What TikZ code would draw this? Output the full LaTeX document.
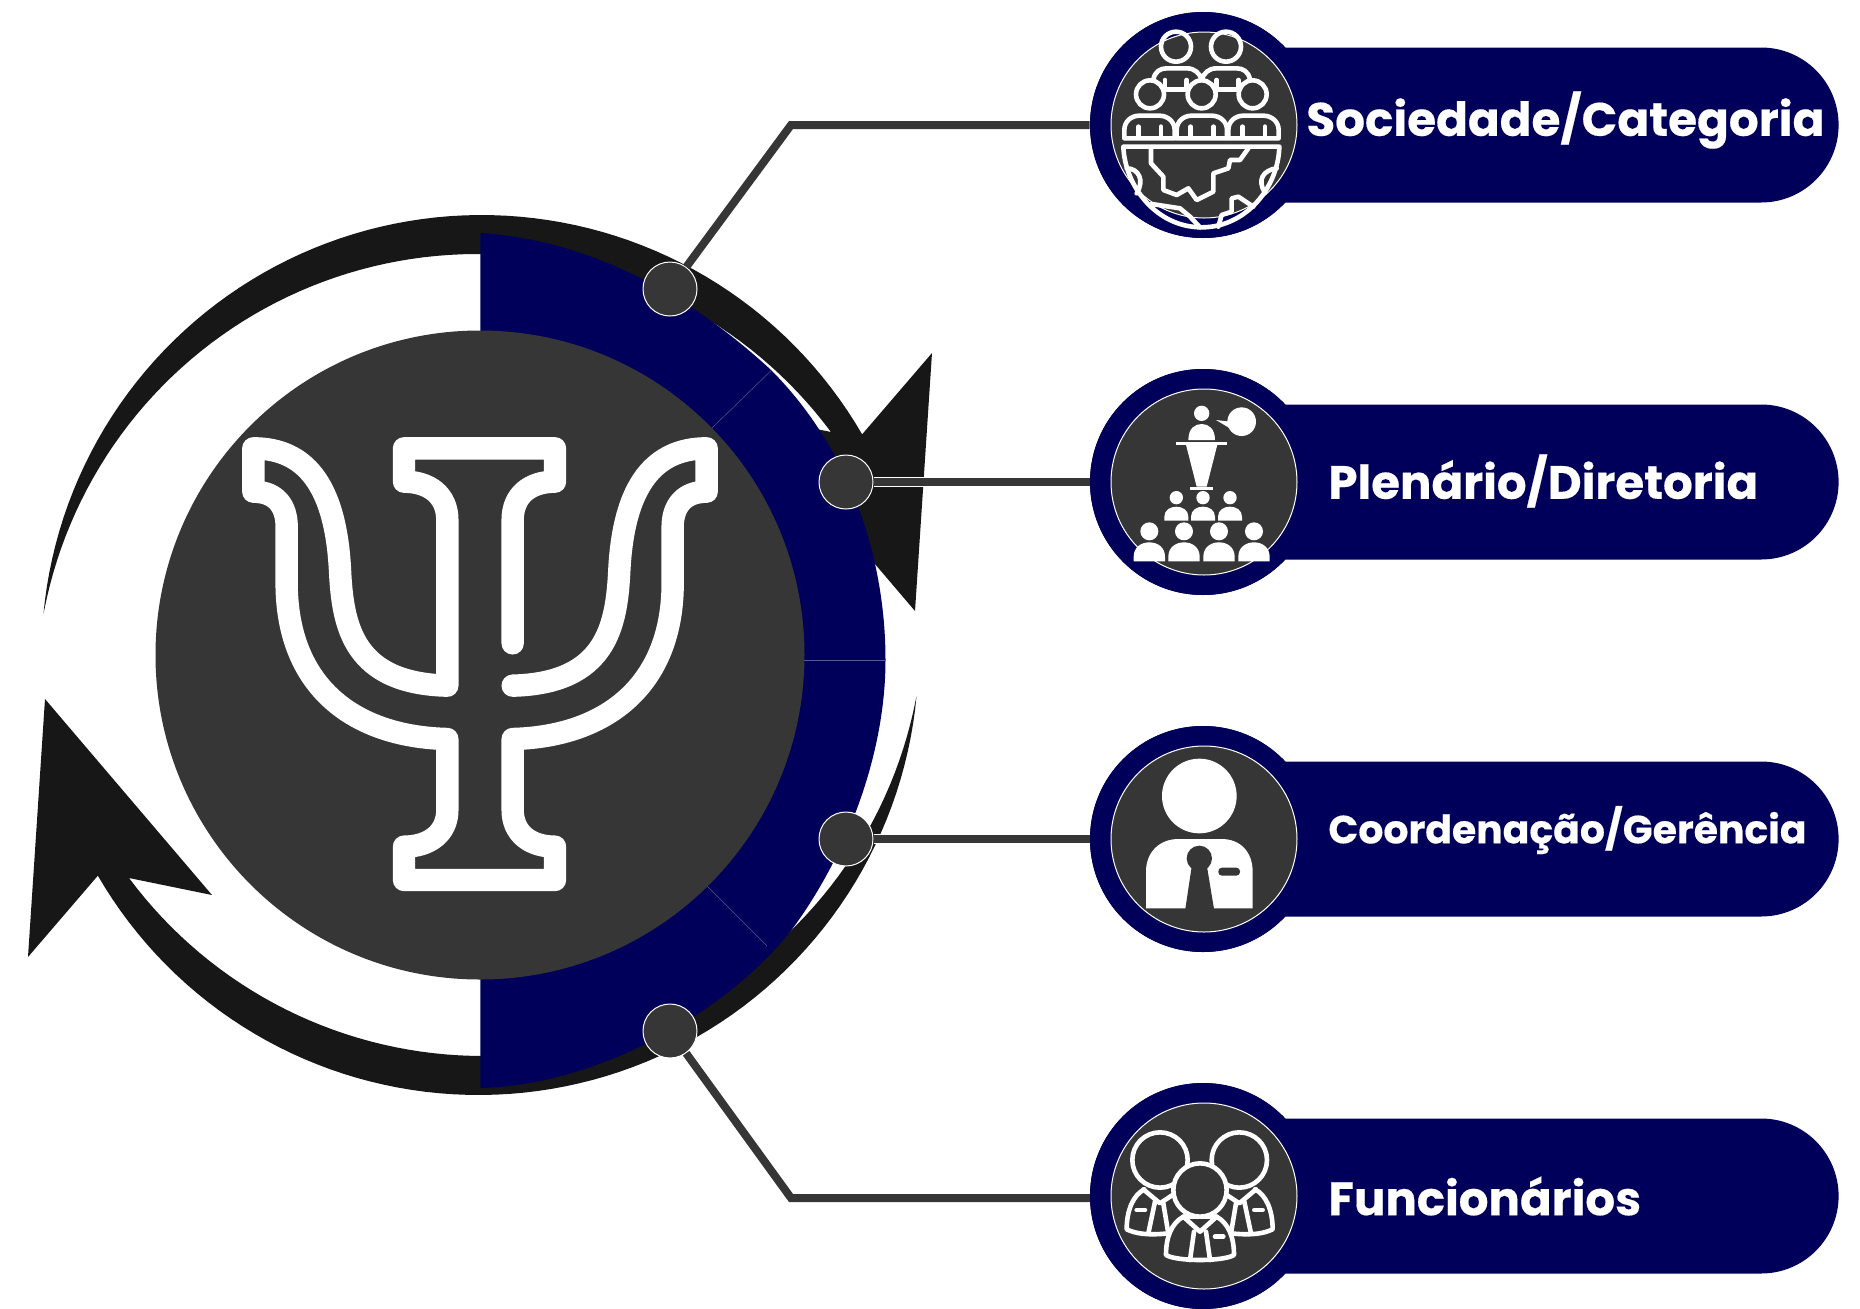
\documentclass[tikz,border=0pt]{standalone}
\usepackage{fontspec}
\setmainfont{Poppins}[BoldFeatures={FakeBold=0.35}]
\usetikzlibrary{shapes.misc}
\definecolor{navy}{RGB}{0,0,90}
\definecolor{gr}{RGB}{54,54,54}
\definecolor{blk}{RGB}{23,23,23}
\tikzset{
 pill/.style={rounded rectangle,rounded rectangle left arc=none,fill=navy,inner sep=0pt,minimum width=290pt,minimum height=77.5pt},
 ring/.style={circle,fill=navy,inner sep=0pt,minimum size=113pt},
 disc/.style={circle,fill=gr,draw=white,line width=0.5pt,inner sep=0pt,minimum size=93pt},
 dot/.style={circle,fill=gr,draw=white,line width=0.5pt,inner sep=0pt,minimum size=27pt},
 lead/.style={draw=gr,line width=4pt,line join=miter},
 halo/.style={draw=white,line width=4.8pt,line join=miter},
 label/.style={text=white,inner sep=0pt,anchor=west},
 icon/.style={draw=white,line width=2.3pt,line cap=round,line join=round},
 psi/.style={draw=white,line width=11.2pt,line cap=round,line join=round},
 seam/.style={draw=white!35!navy,line width=0.25pt},
}
\newcommand{\crescent}{%
 \fill[blk] plot[domain=185.4:329.9,samples=80,variable=\t] ({481.5+440*cos(\t)},{655+440*sin(\t)})
   -- (932,353) -- (915,611) -- (748,415) -- (831,432)
   -- plot[domain=323.4:191,samples=80,variable=\t] ({477+441*cos(\t)},{695+441*sin(\t)}) -- cycle;
}
\begin{document}
\begin{tikzpicture}[x=0.5pt,y=-0.5pt]
\useasboundingbox (0,0) rectangle (1860,1308);
% crescents
\crescent
\begin{scope}[rotate around={180:(480,655)}]\crescent\end{scope}
% blue sectors
\fill[navy] (480,655) -- (480.5,233)
  .. controls (590,240) and (690,295) .. (771,370)
  .. controls (847,446) and (885.5,553) .. (885.5,660)
  .. controls (885.5,750) and (850,850) .. (793,928)
  .. controls (730,1010) and (600,1085) .. (480.5,1088) -- cycle;
\draw[seam] (712,428) -- (771.7,370);
\draw[seam] (707,886) -- (767,946);
\draw[seam] (803,660) -- (885,660);
\node[circle,fill=gr,inner sep=0pt,minimum size=324.5pt] (hub) at (480,655) {};
% psi
\begin{scope}[shift={(220,420)},scale=1/3]
\draw[psi] (878,670) -- (878,300) .. controls (878,225) and (930,185) .. (1005,185) -- (1005,85) -- (552,85) -- (552,185)
 .. controls (627,185) and (682,225) .. (682,300) -- (682,797)
 .. controls (400,790) and (368,620) .. (360,450)
 .. controls (345,160) and (230,85) .. (100,85) -- (100,215)
 .. controls (170,215) and (200,260) .. (200,320) -- (200,500)
 .. controls (205,800) and (400,950) .. (682,957) -- (682,1170)
 .. controls (682,1240) and (627,1280) .. (552,1280) -- (552,1380) -- (1005,1380) -- (1005,1280)
 .. controls (930,1280) and (878,1240) .. (878,1170) -- (878,957)
 .. controls (1155,950) and (1353,800) .. (1358,500) -- (1358,320)
 .. controls (1358,260) and (1390,215) .. (1460,215) -- (1460,85)
 .. controls (1330,85) and (1213,160) .. (1198,450)
 .. controls (1190,620) and (1158,790) .. (878,797);
\end{scope}
% rows
\node[ring] (r1) at (1203,125) {};
\node[ring] (r2) at (1203,482) {};
\node[ring] (r3) at (1203,839) {};
\node[ring] (r4) at (1203,1196) {};
% dots
\node[dot] (d1) at (670,289) {};
\node[dot] (d2) at (846,482) {};
\node[dot] (d3) at (846,839) {};
\node[dot] (d4) at (670,1031) {};
% connectors
\coordinate (b1) at (791,125);
\coordinate (b4) at (791,1198);
\coordinate (a4) at (1095,1198);
\draw[halo] (d2.east) -- (r2.west);
\draw[halo] (d3.east) -- (r3.west);
\draw[lead] (d1) -- (b1) -- (r1.west);
\draw[lead] (d2.east) -- (r2.west);
\draw[lead] (d3.east) -- (r3.west);
\draw[lead] (d4) -- (b4) -- (a4);
\node[pill,anchor=east] (p1) at (1839,125) {};
\node[pill,anchor=east] (p2) at (1839,482) {};
\node[pill,anchor=east] (p3) at (1839,839) {};
\node[pill,anchor=east] (p4) at (1839,1196) {};
\node[ring] at (r1) {};
\node[ring] at (r2) {};
\node[ring] at (r3) {};
\node[ring] at (r4) {};
\node[disc] (c1) at (1204,125) {};
\node[disc] (c2) at (1204,482) {};
\node[disc] (c3) at (1204,839) {};
\node[disc] (c4) at (1204,1196) {};
% labels
\node[label,font=\bfseries\fontsize{23.43}{24}\selectfont] (t1) at (1306,120) {Sociedade/Categoria};
\node[label,font=\bfseries\fontsize{23.33}{24}\selectfont] (t2) at (1328,481) {Plenário/Diretoria};
\node[label,font=\bfseries\fontsize{19.66}{20}\selectfont] (t3) at (1328,830) {Coordenação/Gerência};
\node[label,font=\bfseries\fontsize{23.33}{24}\selectfont] (t4) at (1328,1196) {Funcionários};
% icon 1
\begin{scope}[shift={(1080,0)},scale=1/3]
\draw[icon] (288,140) circle[radius=45] (438,140) circle[radius=45];
\draw[icon] (210,283) circle[radius=42] (365,283) circle[radius=42] (518,283) circle[radius=42];
\draw[icon] (250,268) -- (325,268) (405,268) -- (480,268);
\draw[icon] (220,238) .. controls (225,215) and (240,205) .. (260,205) -- (320,205) .. controls (345,205) and (358,220) .. (365,238)
 .. controls (372,220) and (385,205) .. (410,205) -- (470,205) .. controls (490,205) and (505,215) .. (510,238);
\draw[icon] (255,240) -- (255,266) (320,240) -- (320,266) (410,240) -- (410,266) (475,240) -- (475,266);
\foreach \a in {133,290,445}{
 \draw[icon] (\a,415) -- (\a,390) .. controls (\a,365) and (\a+20,347) .. (\a+45,347) -- (\a+105,347) .. controls (\a+130,347) and (\a+151,365) .. (\a+151,390) -- (\a+151,415) -- cycle;
 \draw[icon] (\a+42,380) -- (\a+42,412) (\a+110,380) -- (\a+110,412);
}
\draw[icon] (598,440) -- (130,440) .. controls (135,560) and (230,682) .. (365,682) .. controls (500,682) and (595,560) .. (598,440);
\draw[icon] (213,445) -- (213,490) -- (250,530) -- (250,570) -- (290,585) -- (325,565) -- (350,600) -- (400,575) -- (400,520) -- (445,505) -- (450,480) -- (480,480) -- (505,445);
\draw[icon] (140,505) .. controls (175,505) and (195,540) .. (170,580);
\draw[icon] (590,505) .. controls (550,510) and (530,540) .. (555,578);
\draw[icon] (215,612) -- (300,625) -- (330,650) -- (360,682);
\draw[icon] (415,680) -- (425,645) -- (455,635) -- (455,595) -- (475,590) -- (520,620);
\end{scope}
% icon 2
\begin{scope}[shift={(1080,360)},scale=1/3]
\fill[white] (365,160) circle[radius=23] (485,185) circle[radius=43];
\fill[white] (408,180) -- (450,185) -- (450,205) -- cycle;
\fill[white] (325,240) .. controls (325,205) and (345,192) .. (365,192) .. controls (385,192) and (405,205) .. (405,240) -- cycle;
\fill[white] (288,245) rectangle (440,254);
\fill[white] (318,254) -- (412,254) -- (380,380) -- (350,380) -- cycle;
\fill[white] (330,382) rectangle (400,390);
\foreach \a in {289,369,450}{
 \fill[white] (\a,413) circle[radius=20];
 \fill[white] (\a-36,482) -- (\a-36,470) .. controls (\a-36,450) and (\a-18,440) .. (\a,440) .. controls (\a+18,440) and (\a+36,450) .. (\a+36,470) -- (\a+36,482) -- cycle;
}
\foreach \a in {208,312,417,522}{
 \fill[white] (\a,514) circle[radius=27];
 \fill[white] (\a-47,604) -- (\a-47,590) .. controls (\a-47,562) and (\a-25,547) .. (\a,547) .. controls (\a+25,547) and (\a+47,562) .. (\a+47,590) -- (\a+47,604) -- cycle;
}
\end{scope}
% icon 3
\begin{scope}[shift={(1080,715)},scale=1/3]
\fill[white] (358,243) circle[radius=112];
\fill[white] (198,580) -- (198,470) .. controls (198,410) and (240,372) .. (295,372) -- (425,372) .. controls (480,372) and (518,410) .. (518,470) -- (518,580) -- cycle;
\fill[gr] (358,430) circle[radius=38];
\fill[gr] (335,455) -- (316,582) -- (402,582) -- (381,455) -- cycle;
\fill[gr,rounded corners=1.8pt] (415,458) rectangle (480,482);
\end{scope}
% icon 4
\begin{scope}[shift={(1080,1070)},scale=1/3]
\foreach \m/\k in {0/1,718/-1}{
\begin{scope}[shift={(\m,0)},xscale=\k]
 \draw[icon] (193,358) .. controls (160,375) and (140,420) .. (140,478) .. controls (165,490) and (200,497) .. (265,490);
 \draw[icon] (190,358) -- (240,400) -- (285,370);
 \draw[icon] (225,395) -- (205,490) (250,400) -- (265,490);
 \draw[icon] (170,420) -- (195,420);
 \draw[icon] (240,270) circle[radius=83];
\end{scope}}
\draw[icon,fill=gr] (310,440) .. controls (275,460) and (258,500) .. (258,555) .. controls (290,575) and (430,575) .. (462,555) .. controls (462,500) and (445,460) .. (410,440) -- cycle;
\draw[icon] (310,440) -- (360,485) -- (410,440);
\draw[icon] (342,485) -- (330,570) (378,485) -- (390,570);
\draw[icon] (405,500) -- (430,500);
\draw[icon,fill=gr] (360,360) circle[radius=80];
\end{scope}
\end{tikzpicture}
\end{document}
